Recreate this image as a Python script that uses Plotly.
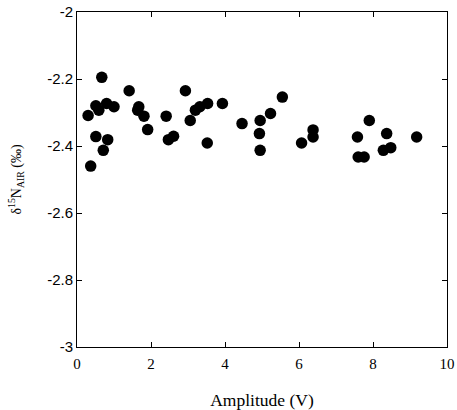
import plotly.graph_objects as go

amplitude = [0.30, 0.37, 0.51, 0.59, 0.51, 0.67, 0.71, 0.80, 0.83, 1.00,
             1.41, 1.64, 1.67, 1.81, 1.91, 2.41, 2.47, 2.61, 2.93, 3.06,
             3.20, 3.32, 3.53, 3.52, 3.93, 4.46, 4.95, 4.93, 4.95, 5.23,
             5.55, 6.07, 6.38, 6.38, 7.58, 7.60, 7.76, 7.90, 8.28, 8.37,
             8.48, 9.18]
delta15n = [-2.309, -2.46, -2.28, -2.293, -2.372, -2.195, -2.413, -2.273, -2.381, -2.283,
            -2.235, -2.293, -2.283, -2.311, -2.351, -2.311, -2.381, -2.371, -2.235, -2.324,
            -2.293, -2.283, -2.273, -2.391, -2.273, -2.333, -2.324, -2.363, -2.413, -2.303,
            -2.254, -2.391, -2.352, -2.373, -2.373, -2.433, -2.433, -2.324, -2.413, -2.363,
            -2.405, -2.373]

x_ticks = [0, 2, 4, 6, 8, 10]
y_ticks = [-3, -2.8, -2.6, -2.4, -2.2, -2]

fig = go.Figure()
fig.add_trace(go.Scatter(
    x=amplitude, y=delta15n, mode="markers",
    marker=dict(color="black", size=11.5, line=dict(width=0)),
    showlegend=False,
))

axis_common = dict(
    showline=True, linecolor="black", linewidth=1, mirror="ticks",
    ticks="inside", ticklen=5, tickwidth=1, tickcolor="black",
    showgrid=False, zeroline=False, automargin=False,
)

fig.update_xaxes(range=[0, 10], tickvals=x_ticks, ticktext=[str(v) for v in x_ticks],
                 tickfont=dict(family="Liberation Serif", size=15, color="black"),
                 ticklabelstandoff=3,
                 title=dict(text="Amplitude (V)", font=dict(family="Liberation Serif", size=17.5, color="black"), standoff=24),
                 **axis_common)
fig.update_yaxes(range=[-3, -2], tickvals=y_ticks, ticktext=[("%g" % v) for v in y_ticks],
                 tickfont=dict(family="Liberation Sans", size=15, color="black"),
                 title=dict(text="δ<sup>15</sup>N<sub>AIR</sub> (‰)", font=dict(family="Liberation Serif", size=14, color="black"), standoff=22),
                 **axis_common)

fig.update_layout(
    width=457, height=410,
    margin=dict(l=77, r=10, t=12, b=63, autoexpand=False),
    plot_bgcolor="white", paper_bgcolor="white",
)

fig.write_html("out.html", config={"displayModeBar": False},
               post_script="document.body.style.margin='0';")
